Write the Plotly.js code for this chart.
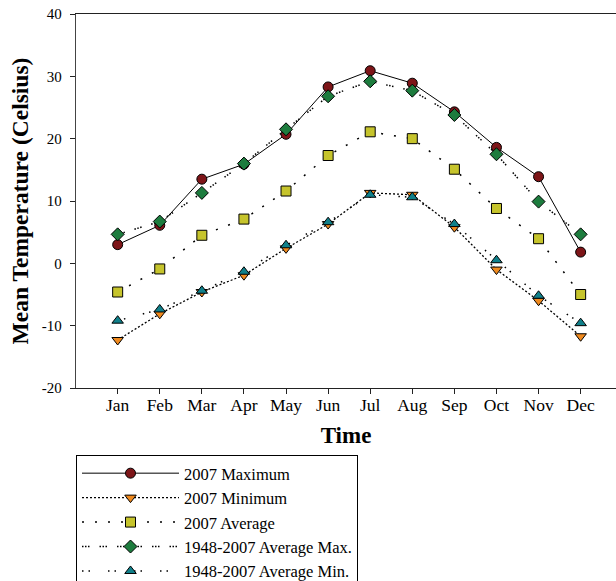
<!DOCTYPE html>
<html>
<head>
<meta charset="utf-8">
<script src="https://cdn.plot.ly/plotly-3.0.1.min.js"></script>
<style>html,body{margin:0;padding:0;background:#fff;}#chart{width:616px;height:581px;}</style>
</head>
<body>
<div id="chart"></div>
<script>
var months = ["Jan","Feb","Mar","Apr","May","Jun","Jul","Aug","Sep","Oct","Nov","Dec"];
var max2007 = [3.0, 6.1, 13.5, 15.9, 20.7, 28.3, 30.9, 28.9, 24.3, 18.6, 13.9, 1.8];
var min2007 = [-12.3, -8.1, -4.6, -1.9, 2.4, 6.3, 11.3, 11.0, 5.8, -1.0, -6.0, -11.7];
var avg2007 = [-4.6, -0.9, 4.5, 7.1, 11.6, 17.3, 21.1, 20.0, 15.1, 8.8, 3.95, -5.0];
var avgMax = [4.65, 6.7, 11.3, 16.0, 21.5, 26.8, 29.2, 27.7, 23.8, 17.5, 9.9, 4.65];
var avgMin = [-9.2, -7.4, -4.4, -1.35, 2.9, 6.6, 11.0, 10.6, 6.3, 0.5, -5.2, -9.6];
var seriesNames = ["2007 Maximum","2007 Minimum","2007 Average","1948-2007 Average Max.","1948-2007 Average Min."];
var yTickVals = [-20, -10, 0, 10, 20, 30, 40];
var yTickText = ["-20", "-10", "0", "10", "20", "30", "40"];

var SERIF = "Liberation Serif";
function tr(name, y, sym, col, dash, lw){
  return {x: months, y: y, name: name, type: "scatter", mode: "lines+markers",
    line: {color: "#000", width: lw, dash: dash},
    marker: {symbol: sym, size: 10, color: col, line: {color: "#000", width: 1}}};
}
var data = [
  tr(seriesNames[0], max2007, "circle", "#7d1518", "solid", 1),
  tr(seriesNames[1], min2007, "triangle-down", "#f08a1e", "2px,2px", 1.3),
  tr(seriesNames[2], avg2007, "square", "#c6c42c", "2px,11px", 1.5),
  tr(seriesNames[3], avgMax, "diamond", "#1d7c3e", "1.5px,1.5px,1.5px,1.5px,1.5px,10px", 1.5),
  tr(seriesNames[4], avgMin, "triangle-up", "#10808a", "1.5px,5px,1.5px,18px", 1.5)
];
var layout = {
  width: 616, height: 581,
  margin: {l: 76, r: 0, t: 14, b: 193, autoexpand: false},
  paper_bgcolor: "#fff", plot_bgcolor: "#fff",
  font: {family: SERIF, color: "#000"},
  showlegend: true,
  xaxis: {type: "category", range: [-0.99, 11.84], showgrid: false, zeroline: false,
    showline: true, linecolor: "#222", linewidth: 1.3, mirror: true,
    ticks: "outside", ticklen: 5, tickcolor: "#222", ticklabelstandoff: -4,
    tickfont: {size: 17.5, family: SERIF, color: "#000"},
    title: {text: "Time", font: {size: 23, family: SERIF, weight: "bold", color: "#000"}, standoff: 12}},
  yaxis: {range: [-20, 40], tickmode: "array", tickvals: yTickVals, ticktext: yTickText,
    showgrid: false, zeroline: false,
    showline: true, linecolor: "#444", linewidth: 1.3,
    ticks: "outside", ticklen: 5, tickcolor: "#222", ticklabelstandoff: 5,
    tickfont: {size: 15, family: SERIF, color: "#000"},
    title: {text: "Mean Temperature (Celsius)", font: {size: 23.5, family: SERIF, weight: "bold", color: "#000"}, standoff: 6}},
  legend: {x: 0, xanchor: "left", y: -0.179, yanchor: "top", bgcolor: "#fff",
    bordercolor: "#000", borderwidth: 1, font: {size: 16.5, family: SERIF, color: "#000"},
    itemwidth: 97, tracegroupgap: 0}
};
Plotly.newPlot("chart", data, layout, {displayModeBar: false, staticPlot: true});
</script>
</body>
</html>
